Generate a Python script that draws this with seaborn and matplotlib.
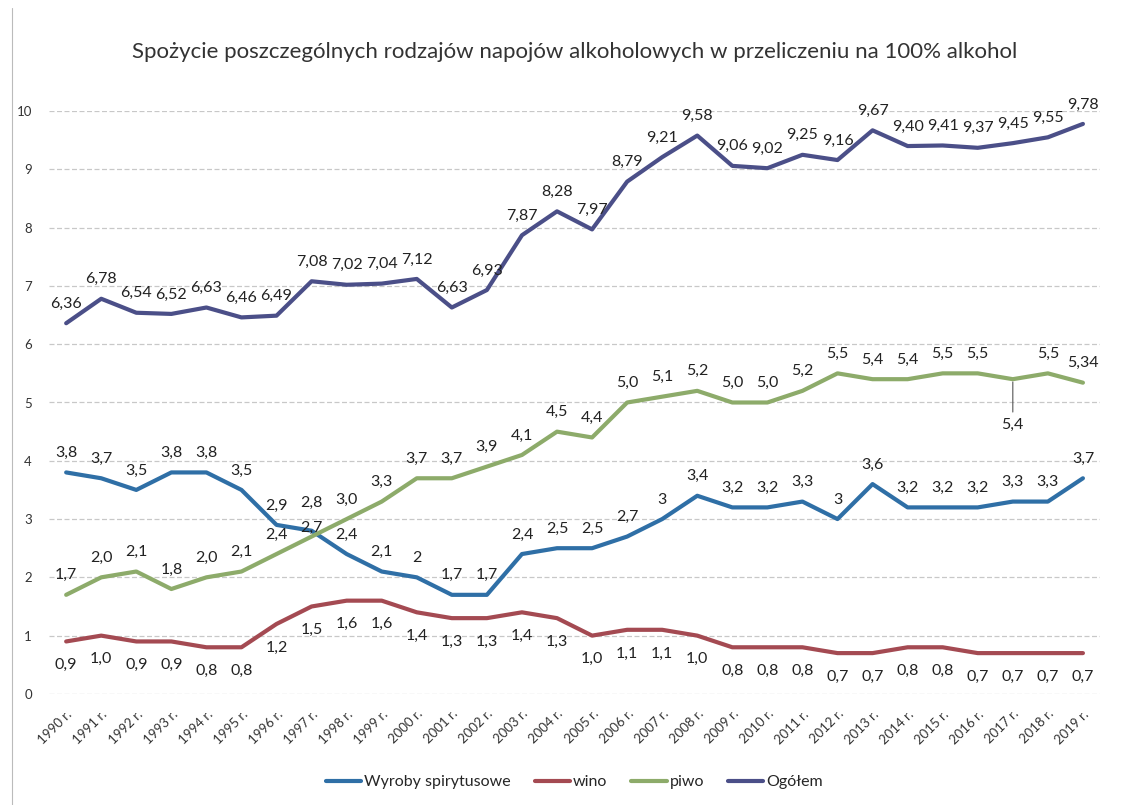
import matplotlib.pyplot as plt
import matplotlib.lines as mlines
import numpy as np
import pandas as pd
import seaborn as sns

years = [f"{y} r." for y in range(1990, 2020)]

spirytusowe = [3.8, 3.7, 3.5, 3.8, 3.8, 3.5, 2.9, 2.8, 2.4, 2.1, 2.0, 1.7, 1.7, 2.4, 2.5,
               2.5, 2.7, 3.0, 3.4, 3.2, 3.2, 3.3, 3.0, 3.6, 3.2, 3.2, 3.2, 3.3, 3.3, 3.7]
wino = [0.9, 1.0, 0.9, 0.9, 0.8, 0.8, 1.2, 1.5, 1.6, 1.6, 1.4, 1.3, 1.3, 1.4, 1.3,
        1.0, 1.1, 1.1, 1.0, 0.8, 0.8, 0.8, 0.7, 0.7, 0.8, 0.8, 0.7, 0.7, 0.7, 0.7]
piwo = [1.7, 2.0, 2.1, 1.8, 2.0, 2.1, 2.4, 2.7, 3.0, 3.3, 3.7, 3.7, 3.9, 4.1, 4.5,
        4.4, 5.0, 5.1, 5.2, 5.0, 5.0, 5.2, 5.5, 5.4, 5.4, 5.5, 5.5, 5.4, 5.5, 5.34]
ogolem = [6.36, 6.78, 6.54, 6.52, 6.63, 6.46, 6.49, 7.08, 7.02, 7.04, 7.12, 6.63, 6.93, 7.87, 8.28,
          7.97, 8.79, 9.21, 9.58, 9.06, 9.02, 9.25, 9.16, 9.67, 9.40, 9.41, 9.37, 9.45, 9.55, 9.78]

# label texts as printed on the chart
lab_spir = ["3,8", "3,7", "3,5", "3,8", "3,8", "3,5", "2,9", "2,8", "2,4", "2,1", "2", "1,7", "1,7", "2,4", "2,5",
            "2,5", "2,7", "3", "3,4", "3,2", "3,2", "3,3", "3", "3,6", "3,2", "3,2", "3,2", "3,3", "3,3", "3,7"]
lab_ogol = ["6,36", "6,78", "6,54", "6,52", "6,63", "6,46", "6,49", "7,08", "7,02", "7,04", "7,12", "6,63", "6,93",
            "7,87", "8,28", "7,97", "8,79", "9,21", "9,58", "9,06", "9,02", "9,25", "9,16", "9,67", "9,40", "9,41",
            "9,37", "9,45", "9,55", "9,78"]

names = ["Wyroby spirytusowe", "wino", "piwo", "Ogółem"]
colors = ["#2f6fa6", "#a44a52", "#8dab6a", "#4b4f88"]

df = pd.DataFrame({
    "x": list(range(len(years))) * 4,
    "value": spirytusowe + wino + piwo + ogolem,
    "series": np.repeat(names, len(years)),
})

sns.set_style("white")
plt.rcParams["font.family"] = ["Lato", "DejaVu Sans"]

fig, ax = plt.subplots(figsize=(11.31, 8.05), dpi=100)
fig.subplots_adjust(left=0.043, right=0.973, bottom=0.138, top=0.862)

sns.lineplot(data=df, x="x", y="value", hue="series", palette=dict(zip(names, colors)),
             hue_order=names, linewidth=3, ax=ax)

def fmt(v):
    return f"{v:.1f}".replace(".", ",")

def label(txt, i, v, dy, va="bottom", **kw):
    ax.annotate(txt, (i, v), xytext=(0, dy), textcoords="offset points",
                ha="center", va=va, fontsize=11.5, color="#222222", **kw)

for i in range(len(years)):
    label(lab_ogol[i], i, ogolem[i], 9)
    # 1997: spirits and beer labels sit almost on top of each other
    label(lab_spir[i], i, spirytusowe[i], 15 if i == 7 else 9)
    label(fmt(wino[i]), i, wino[i], -12, va="top")
    if i == 27:
        label(fmt(piwo[i]), i, piwo[i], -28, va="top",
              arrowprops=dict(arrowstyle="-", color="#555555", lw=0.8))
    elif i == 29:
        label("5,34", i, piwo[i], 9)
    elif i == 7:
        label(fmt(piwo[i]), i, piwo[i], 1)
    else:
        label(fmt(piwo[i]), i, piwo[i], 9)

ax.set_xlim(-0.5, len(years) - 0.5)
ax.set_ylim(0, 10)
ax.set_yticks(range(0, 11))
ax.set_xticks(range(len(years)))
ax.set_xticklabels(years, rotation=45, ha="right", rotation_mode="anchor", fontsize=9.5, color="#333333")
ax.tick_params(axis="y", labelsize=9.5, labelcolor="#333333", length=0, pad=12)
ax.tick_params(axis="x", length=0, pad=10)
ax.yaxis.grid(True, linestyle=(0, (4, 2)), color="#c8c8c8", linewidth=0.9)
ax.xaxis.grid(False)
for s in ax.spines.values():
    s.set_visible(False)
ax.set_xlabel("")
ax.set_ylabel("")

ax.set_title("Spożycie poszczególnych rodzajów napojów alkoholowych w przeliczeniu na 100% alkohol",
             fontsize=16, color="#333333", pad=38)

ax.legend(loc="upper center", bbox_to_anchor=(0.5, -0.115), ncol=4, frameon=False,
          fontsize=11.5, handlelength=2.2, columnspacing=1.5, handletextpad=0.2)

fig.add_artist(mlines.Line2D([0.011, 0.011], [0.0, 0.99], color="#bbbbbb", lw=0.8))

fig.savefig("out.png", dpi=100)
